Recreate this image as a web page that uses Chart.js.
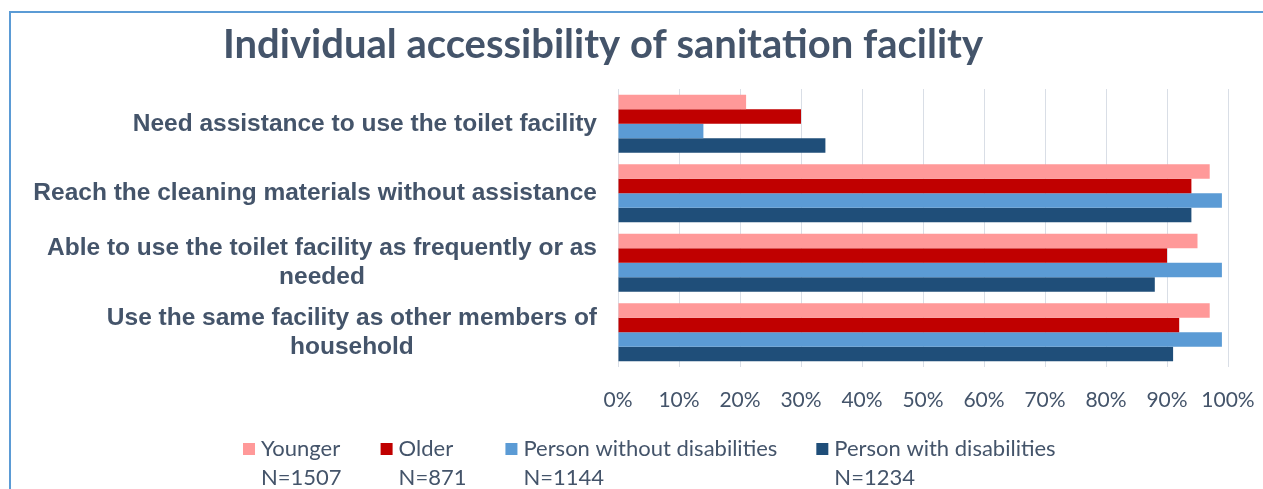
<!DOCTYPE html>
<html>
<head>
<meta charset="utf-8">
<script src="https://cdn.jsdelivr.net/npm/chart.js@4"></script>
<style>
html,body{margin:0;padding:0;background:#fff;}
#wrap{width:1263px;height:489px;position:relative;}
</style>
</head>
<body>
<div id="wrap"><canvas id="c" width="1263" height="489"></canvas></div>
<script>
const title = 'Individual accessibility of sanitation facility';
const categories = [
  ['Need assistance to use the toilet facility'],
  ['Reach the cleaning materials without assistance'],
  ['Able to use the toilet facility as frequently or as', 'needed'],
  ['Use the same facility as other members of', 'household']
];
const seriesNames = ['Younger', 'Older', 'Person without disabilities', 'Person with disabilities'];
const seriesN = ['N=1507', 'N=871', 'N=1144', 'N=1234'];
const younger = [21, 97, 95, 97];
const older = [30, 94, 90, 92];
const withoutDis = [14, 99, 99, 99];
const withDis = [34, 94, 88, 91];
const tickValues = [0, 10, 20, 30, 40, 50, 60, 70, 80, 90, 100];
const colors = ['#FF9999', '#C00000', '#5B9BD5', '#1F4E79'];

const TEXT = '#44546A';
const CAL = 'Lato, "Open Sans", sans-serif';

const deco = {
  id: 'deco',
  afterDraw(chart) {
    const ctx = chart.ctx;
    const yScale = chart.scales.y;
    ctx.save();
    // border
    ctx.fillStyle = '#5B9BD5';
    ctx.fillRect(9, 11, 1263 - 9, 2);
    ctx.fillRect(9, 11, 2, 489 - 11);
    // title
    ctx.fillStyle = TEXT;
    ctx.font = 'bold 40px ' + CAL;
    ctx.textAlign = 'center';
    ctx.textBaseline = 'middle';
    ctx.fillText(title, 603, 45);
    // category labels (right-aligned block, centered lines)
    ctx.font = 'bold 24.5px "Liberation Sans", Arial, sans-serif';
    const lh = 29;
    categories.forEach((lines, i) => {
      const cy = yScale.getPixelForTick(i);
      const widths = lines.map(l => ctx.measureText(l).width);
      const maxW = Math.max(...widths);
      const right = 597;
      const blockCenter = right - maxW / 2;
      lines.forEach((l, j) => {
        const y = cy + (j - (lines.length - 1) / 2) * lh;
        ctx.textAlign = 'center';
        ctx.fillText(l, blockCenter, y);
      });
    });
    // legend
    ctx.font = '22px ' + CAL;
    ctx.textAlign = 'left';
    let x = 243;
    const gaps = 39;
    seriesNames.forEach((name, i) => {
      ctx.fillStyle = colors[i];
      ctx.fillRect(x, 443, 12, 12);
      ctx.fillStyle = TEXT;
      const tx = x + 18;
      ctx.fillText(name, tx, 449);
      ctx.fillText(seriesN[i], tx, 478);
      const w = Math.max(ctx.measureText(name).width, ctx.measureText(seriesN[i]).width);
      x = tx + w + gaps;
    });
    ctx.restore();
  }
};

new Chart(document.getElementById('c'), {
  type: 'bar',
  data: {
    labels: categories,
    datasets: [
      { label: seriesNames[0], data: younger, backgroundColor: colors[0] },
      { label: seriesNames[1], data: older, backgroundColor: colors[1] },
      { label: seriesNames[2], data: withoutDis, backgroundColor: colors[2] },
      { label: seriesNames[3], data: withDis, backgroundColor: colors[3] }
    ]
  },
  options: {
    indexAxis: 'y',
    responsive: false,
    animation: false,
    layout: { padding: { top: 89, right: 35, bottom: 0, left: 0 } },
    datasets: { bar: { categoryPercentage: 0.835, barPercentage: 1.0 } },
    plugins: { legend: { display: false }, title: { display: false }, tooltip: { enabled: false } },
    scales: {
      x: {
        min: 0, max: 100,
        afterBuildTicks(scale) { scale.ticks = tickValues.map(v => ({ value: v })); },
        afterFit(scale) { scale.height = 122; scale.paddingLeft = 0; scale.paddingRight = 0; },
        grid: { color: '#D9DEE6', lineWidth: 1, drawTicks: false },
        border: { display: false },
        ticks: {
          padding: 21,
          color: TEXT,
          font: { family: CAL, size: 21 },
          callback: v => v + '%'
        }
      },
      y: {
        afterFit(scale) { scale.width = 618; scale.paddingTop = 0; scale.paddingBottom = 0; },
        grid: { display: false },
        border: { display: false },
        ticks: { display: false }
      }
    }
  },
  plugins: [deco]
});
</script>
</body>
</html>
